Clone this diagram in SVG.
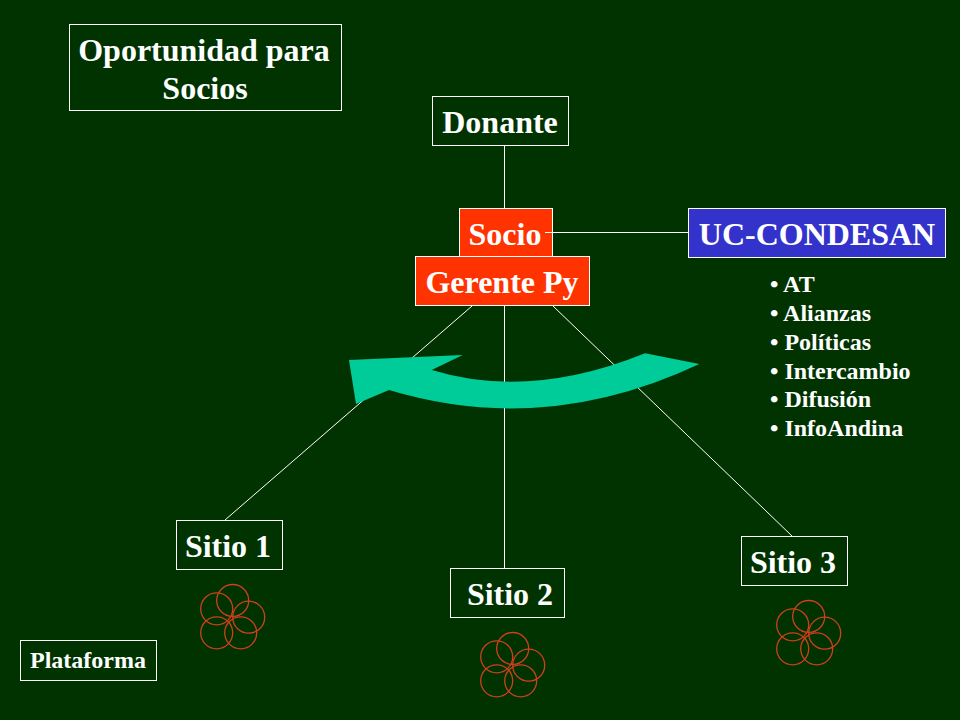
<svg xmlns="http://www.w3.org/2000/svg" width="960" height="720" viewBox="0 0 960 720">
<style>
.box{stroke:#fff;stroke-width:1}
.t{font-family:"Liberation Serif","Times New Roman",serif;font-weight:bold;fill:#fff;text-anchor:middle}
.l{font-size:32px}
.s{font-size:24px}
.m{font-size:24px}
.c line{stroke:#fff;stroke-width:1}
.f circle{fill:none;stroke:#d0401a;stroke-width:1.3}
</style>
<defs>
<g id="flower" class="f"><circle cx="232.7" cy="600.500" r="16"/><circle cx="216.7" cy="608.800" r="16"/><circle cx="248.7" cy="617.200" r="16"/><circle cx="216.7" cy="632.800" r="16"/><circle cx="240.7" cy="632.800" r="16"/></g>
</defs>
<rect width="960" height="720" fill="#003300"/>
<g id="connectors" class="c">
<line x1="504.5" y1="146" x2="504.5" y2="208"/>
<line x1="545" y1="232.5" x2="688" y2="232.5"/>
<line x1="472" y1="306" x2="225" y2="520"/>
<line x1="504.5" y1="306" x2="504.5" y2="568"/>
<line x1="553" y1="306" x2="792" y2="536"/>
</g>
<g id="titulo"><rect class="box" x="69.500" y="24.500" width="272" height="86" fill="none"/><text class="t l" x="204" y="61">Oportunidad para</text><text class="t l" x="205" y="99">Socios</text></g>
<g id="donante"><rect class="box" x="432.500" y="96.500" width="136" height="49" fill="none"/><text class="t l" x="500" y="133">Donante</text></g>
<g id="socio"><rect class="box" x="459.500" y="208.500" width="93" height="48" fill="#ff3300"/><text class="t l" x="505" y="245">Socio</text></g>
<line x1="545" y1="232.500" x2="553" y2="232.500" stroke="#fff"/>
<g id="uc"><rect class="box" x="688.500" y="208.500" width="257" height="49" fill="#3333cc"/><text class="t l" x="817" y="245">UC-CONDESAN</text></g>
<g id="gerente"><rect class="box" x="415.500" y="256.500" width="174" height="49" fill="#ff3300"/><text class="t l" x="502" y="293">Gerente Py</text></g>
<g id="flecha"><path d="M349 360L462.700 355L431.700 370Q530 400 645 353.300L699.300 364Q545 437 389 390L356 404Z" fill="#00cc99"/></g>
<g id="lista" class="t s" style="text-anchor:start">
<text x="770" y="292">• AT</text>
<text x="770" y="321">• Alianzas</text>
<text x="770" y="350">• Políticas</text>
<text x="770" y="379">• Intercambio</text>
<text x="770" y="407">• Difusión</text>
<text x="770" y="436">• InfoAndina</text>
</g>
<g id="sitio1"><rect class="box" x="176.500" y="520.500" width="106" height="49" fill="none"/><text class="t l" x="228" y="557">Sitio 1</text></g>
<g id="sitio2"><rect class="box" x="450.500" y="568.500" width="114" height="49" fill="none"/><text class="t l" x="510" y="605">Sitio 2</text></g>
<g id="sitio3"><rect class="box" x="741.500" y="536.500" width="106" height="49" fill="none"/><text class="t l" x="793" y="573">Sitio 3</text></g>
<g id="plataforma"><rect class="box" x="20.500" y="640.500" width="136" height="40" fill="none"/><text class="t m" x="88" y="668">Plataforma</text></g>
<g id="flores1"><use href="#flower"/></g>
<g id="flores2"><use href="#flower" transform="translate(280,48)"/></g>
<g id="flores3"><use href="#flower" transform="translate(576,16)"/></g>
</svg>
